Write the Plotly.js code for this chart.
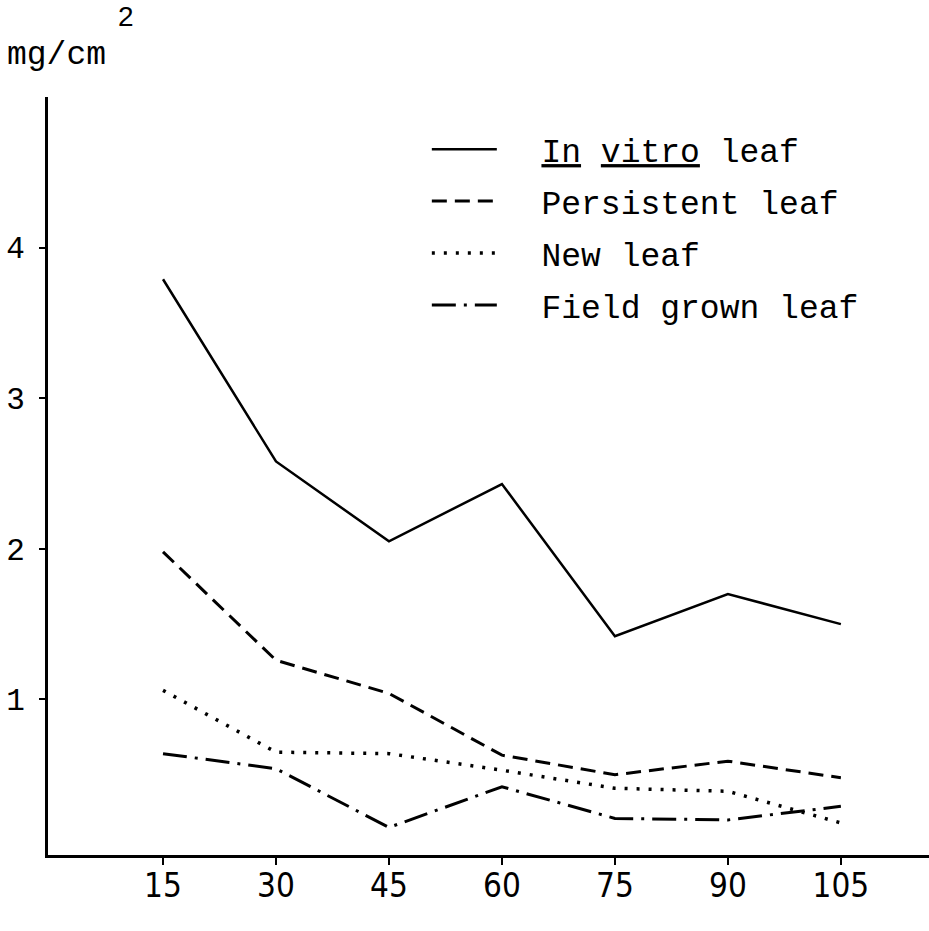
<!DOCTYPE html>
<html>
<head>
<meta charset="utf-8">
<script src="https://cdn.plot.ly/plotly-3.0.1.min.js"></script>
<style>html,body{margin:0;padding:0;background:#fff;}#chart{width:929px;height:931px;}</style>
</head>
<body>
<div id="chart"></div>
<script>
// Days
var days = [15, 30, 45, 60, 75, 90, 105];
var tickLabels = ["15", "30", "45", "60", "75", "90", "105"];
// mg/cm2 values
var inVitro = [3.79, 2.58, 2.05, 2.43, 1.42, 1.70, 1.50];
var persistent = [1.98, 1.26, 1.04, 0.63, 0.50, 0.59, 0.48];
var newLeaf = [1.06, 0.65, 0.64, 0.53, 0.41, 0.39, 0.18];
var fieldGrown = [0.64, 0.54, 0.15, 0.42, 0.21, 0.20, 0.29];
var seriesNames = ["<u>In</u> <u>vitro</u> leaf", "Persistent leaf", "New leaf", "Field grown leaf"];
var yTicks = [1, 2, 3, 4];

var mono = "Liberation Mono, Courier New, monospace";
var dashes = ["solid", "15px,8px", "3px,9px", "24px,8px,3px,8px"];
var widths = [2.5, 3, 3.5, 3];
var series = [inVitro, persistent, newLeaf, fieldGrown];
var pad = "\u00a0\u00a0";

var traces = series.map(function (vals, i) {
  return {
    x: days, y: vals, type: "scatter", mode: "lines",
    name: pad + seriesNames[i], legendgroup: "g" + i,
    line: {color: "#000", width: widths[i], dash: dashes[i]}
  };
});

var layout = {
  width: 929, height: 931,
  margin: {l: 48, r: 0, t: 97, b: 76},
  paper_bgcolor: "#fff", plot_bgcolor: "#fff",
  showlegend: true,
  legend: {
    x: 0.43, y: 0.968, xanchor: "left", yanchor: "top",
    font: {family: mono, size: 33, color: "#000"},
    itemwidth: 65, tracegroupgap: 6, bgcolor: "rgba(0,0,0,0)"
  },
  xaxis: {
    range: [-0.27, 116.7],
    tickmode: "array", tickvals: days, ticktext: tickLabels,
    showline: true, linewidth: 3, linecolor: "#000",
    ticks: "outside", ticklen: 7, tickwidth: 2, tickcolor: "#000",
    ticklabelstandoff: -8,
    showgrid: false, zeroline: false,
    tickfont: {family: "Liberation Sans Narrow, DejaVu Sans Condensed, sans-serif", size: 33, color: "#000"}
  },
  yaxis: {
    range: [-0.033, 5.0],
    tickmode: "array", tickvals: yTicks, ticktext: yTicks.map(String),
    showline: true, linewidth: 3, linecolor: "#000",
    ticks: "outside", ticklen: 6, tickwidth: 2, tickcolor: "#000",
    ticklabelstandoff: 8,
    showgrid: false, zeroline: false,
    tickfont: {family: mono, size: 31, color: "#000"}
  },
  annotations: [
    {xref: "paper", yref: "paper", x: -0.049, y: 1.055, xanchor: "left", yanchor: "middle",
     text: "mg/cm", showarrow: false, font: {family: mono, size: 33, color: "#000"}},
    {xref: "paper", yref: "paper", x: 0.077, y: 1.106, xanchor: "left", yanchor: "middle",
     text: "2", showarrow: false, font: {family: "Liberation Sans, Arial, sans-serif", size: 28, color: "#000"}}
  ]
};

Plotly.newPlot("chart", traces, layout, {displayModeBar: false, staticPlot: true});
</script>
</body>
</html>
